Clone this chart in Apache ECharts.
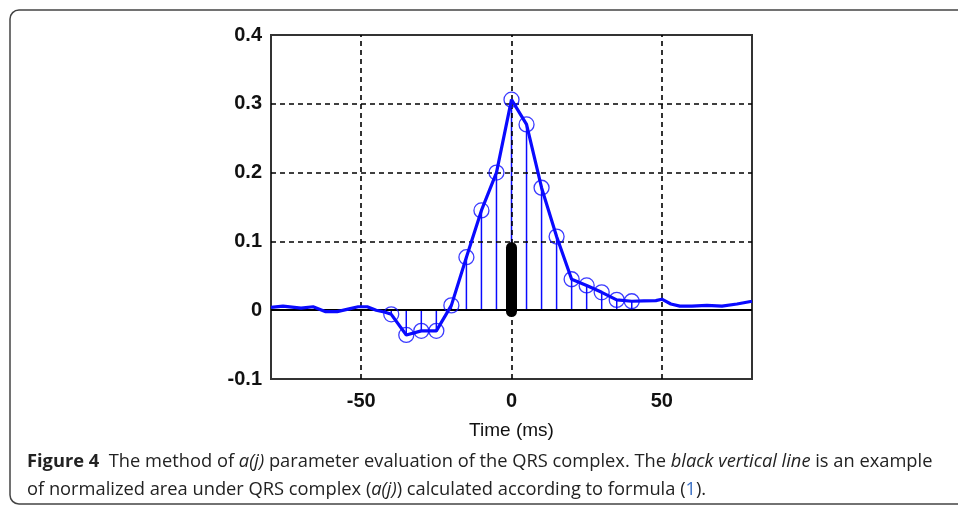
<!DOCTYPE html>
<html>
<head>
<meta charset="utf-8">
<script src="https://cdn.jsdelivr.net/npm/echarts@6/dist/echarts.min.js"></script>
<style>
html,body{margin:0;padding:0;background:#fff;}
#chart{width:958px;height:505px;}
</style>
</head>
<body>
<div id="chart"></div>
<script>
// Stem sample times (ms) and values (circles)
var stemX = [-40,-35,-30,-25,-20,-15,-10,-5,0,5,10,15,20,25,30,35,40];
var stemY = [-0.006,-0.036,-0.030,-0.030,0.007,0.077,0.145,0.200,0.306,0.270,0.178,0.107,0.045,0.036,0.026,0.015,0.013];
// Baseline portions of the signal outside the stems
var leftX = [-80,-76,-70,-66,-62,-58,-54,-51,-48,-45,-42];
var leftY = [0.004,0.006,0.003,0.005,-0.002,-0.002,0.002,0.005,0.005,0.000,-0.003];
var rightX = [44,48,50,53,56,60,65,70,75,80];
var rightY = [0.0136,0.014,0.016,0.009,0.006,0.006,0.007,0.006,0.009,0.013];
// Normalized area a(j) bar
var areaX = 0;
var areaRange = [-0.002, 0.091];
// Axis ticks
var xGridValues = [-50, 0, 50];
var yGridValues = [0.1, 0.2, 0.3];

var blue = '#0a0aff';
var signal = [];
leftX.forEach(function(x,i){signal.push([x,leftY[i]]);});
stemX.forEach(function(x,i){signal.push([x,stemY[i]]);});
rightX.forEach(function(x,i){signal.push([x,rightY[i]]);});
var stems = stemX.map(function(x,i){return [x,stemY[i]];});

var dashStyle = {color:'#000', width:1.6, type:[5,4]};
var gridMarks = xGridValues.map(function(v){return {xAxis:v};})
  .concat(yGridValues.map(function(v){return {yAxis:v};}));

var capFont = 18.3;
var chart = echarts.init(document.getElementById('chart'));
chart.setOption({
  animation:false,
  grid:{left:271, top:35, width:481, height:344, show:true, borderColor:'#333', borderWidth:2, backgroundColor:'transparent'},
  xAxis:{
    type:'value', min:-80, max:80, interval:10,
    name:'Time (ms)', nameLocation:'middle', nameGap:42,
    nameTextStyle:{fontFamily:'Liberation Sans Narrow, Liberation Sans, Arial', fontSize:19, color:'#111'},
    axisLine:{show:false}, axisTick:{show:false}, splitLine:{show:false},
    axisLabel:{margin:12, fontFamily:'Liberation Sans, Arial', fontWeight:'bold', fontSize:20, color:'#111',
      formatter:function(v){return (Math.round(v)%50===0)? String(Math.round(v)) : '';}}
  },
  yAxis:{
    type:'value', min:-0.1, max:0.4, interval:0.1,
    axisLine:{show:false}, axisTick:{show:false}, splitLine:{show:false},
    axisLabel:{margin:9, fontFamily:'Liberation Sans, Arial', fontWeight:'bold', fontSize:20, color:'#111',
      formatter:function(v){var r=Math.round(v*10)/10; return r===0?'0':String(r);}}
  },
  graphic:[
    {type:'rect', shape:{x:10, y:10, width:1000, height:494, r:9}, style:{fill:'none', stroke:'#444', lineWidth:1.5}, z:-10},
    {type:'text', left:27, top:453, style:{
      text:'{b|Figure 4}  The method of {i|a(j)} parameter evaluation of the QRS complex. The {i|black vertical line} is an example',
      font:capFont+'px "Open Sans"', fill:'#222',
      rich:{b:{fontWeight:'bold', fontFamily:'Open Sans', fontSize:capFont, fill:'#222'}, i:{fontStyle:'italic', fontFamily:'Open Sans', fontSize:capFont, fill:'#222'}}
    }},
    {type:'text', left:27, top:481, style:{
      text:'of normalized area under QRS complex ({i|a(j)}) calculated according to formula ({l|1}).',
      font:capFont+'px "Open Sans"', fill:'#222',
      rich:{i:{fontStyle:'italic', fontFamily:'Open Sans', fontSize:capFont, fill:'#222'}, l:{fontFamily:'Open Sans', fontSize:capFont, fill:'#3a6fc4'}}
    }}
  ],
  series:[
    {type:'line', data:[], silent:true, z:1,
     markLine:{symbol:'none', silent:true, label:{show:false}, lineStyle:dashStyle, data:gridMarks}},
    {type:'custom', z:3, silent:true,
     renderItem:function(params, api){
       var p0 = api.coord([api.value(0), 0]);
       var p1 = api.coord([api.value(0), api.value(1)]);
       return {type:'line', shape:{x1:p0[0], y1:p0[1], x2:p1[0], y2:p1[1]}, style:{stroke:blue, lineWidth:1.5}};
     },
     data:stems},
    {type:'line', data:[], silent:true, z:4,
     markLine:{symbol:'none', silent:true, label:{show:false}, lineStyle:{color:'#000', width:2, type:'solid'}, data:[{yAxis:0}]}},
    {type:'line', data:signal, showSymbol:false, symbol:'none', z:5, silent:true,
     lineStyle:{color:blue, width:3.2}},
    {type:'scatter', data:stems, symbol:'circle', symbolSize:15, z:6, silent:true,
     itemStyle:{color:'rgba(0,0,0,0)', borderColor:blue, borderWidth:1.3}},
    {type:'line', data:[[areaX, areaRange[0]],[areaX, areaRange[1]]], symbol:'none', z:7, silent:true,
     lineStyle:{color:'#000', width:11, cap:'round'}}
  ]
});
</script>
</body>
</html>
